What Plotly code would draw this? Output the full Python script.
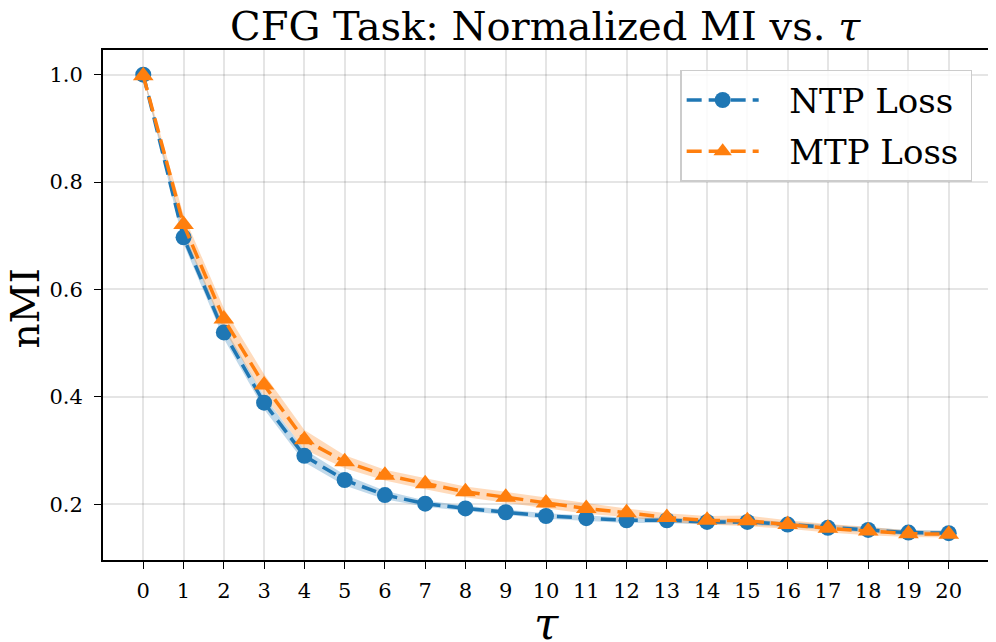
import plotly.graph_objects as go

tau = list(range(21))
ntp_mean = [1.0, 0.697, 0.52, 0.389, 0.290, 0.245, 0.217, 0.201, 0.192, 0.185, 0.178, 0.174, 0.170,
            0.170, 0.167, 0.167, 0.162, 0.156, 0.152, 0.147, 0.146]
ntp_std = [0.003, 0.012, 0.012, 0.012, 0.012, 0.010, 0.008, 0.006, 0.005, 0.005, 0.005, 0.005, 0.005,
           0.005, 0.005, 0.005, 0.005, 0.005, 0.005, 0.005, 0.005]
mtp_mean = [0.998, 0.721, 0.545, 0.422, 0.320, 0.279, 0.254, 0.238, 0.223, 0.213, 0.202, 0.192, 0.184,
            0.175, 0.170, 0.169, 0.162, 0.155, 0.150, 0.145, 0.144]
mtp_std = [0.003, 0.018, 0.020, 0.020, 0.018, 0.012, 0.010, 0.010, 0.010, 0.010, 0.010, 0.010, 0.008,
           0.008, 0.008, 0.010, 0.008, 0.008, 0.008, 0.006, 0.006]

series = [
    ("NTP Loss", ntp_mean, ntp_std, "#1f77b4", "rgba(31,119,180,0.28)", "circle", 16),
    ("MTP Loss", mtp_mean, mtp_std, "#ff7f0e", "rgba(255,127,14,0.28)", "triangle-up", 18),
]

fig = go.Figure()
for name, m, s, col, fcol, sym, msz in series:
    upper = [a + b for a, b in zip(m, s)]
    lower = [a - b for a, b in zip(m, s)]
    fig.add_trace(go.Scatter(x=tau + tau[::-1], y=upper + lower[::-1], fill="toself",
                             fillcolor=fcol, line=dict(width=0), mode="lines",
                             showlegend=False, hoverinfo="skip"))
for name, m, s, col, fcol, sym, msz in series:
    fig.add_trace(go.Scatter(x=tau, y=m, name="\u2002\u2005" + name + "\u2009", mode="lines+markers",
                             legendgroup=name,
                             line=dict(color=col, width=3.5, dash="15px,7px"),
                             marker=dict(symbol=sym, size=msz, color=col)))

font_family = "DejaVu Serif"
fig.update_layout(
    width=988, height=634,
    margin=dict(l=95, r=7, t=42, b=82, autoexpand=False),
    paper_bgcolor="white", plot_bgcolor="white",
    font=dict(family=font_family, color="black", size=21),
    title=dict(text="CFG Task: Normalized MI vs. <i>τ</i>", xref="container", x=0.5437,
               xanchor="center", yref="container", y=0.972, yanchor="middle",
               font=dict(size=40, family=font_family)),
    legend=dict(x=0.981, xanchor="right", y=0.961, yanchor="top",
                bgcolor="rgba(255,255,255,0.85)", bordercolor="#cccccc", borderwidth=1.5,
                font=dict(size=34, family=font_family), itemwidth=72,
                tracegroupgap=4),
    showlegend=True,
    annotations=[
        dict(text="nMI", xref="paper", yref="paper", x=-0.0875, y=0.494, textangle=-90,
             xanchor="center", yanchor="middle", showarrow=False,
             font=dict(size=39, family=font_family, color="black")),
        dict(text="<i>τ</i>", xref="paper", yref="paper", x=0.501, y=-0.124,
             xanchor="center", yanchor="middle", showarrow=False,
             font=dict(size=44, family=font_family, color="black")),
    ],
)
fig.update_xaxes(range=[-1, 21], tickmode="array", tickvals=tau, ticktext=[str(t) for t in tau],
                 showgrid=True, gridcolor="rgba(0,0,0,0.10)", gridwidth=1.5,
                 showline=True, linecolor="black", linewidth=1.8, mirror=True,
                 ticks="outside", ticklen=7, tickwidth=1.3, tickcolor="black",
                 tickfont=dict(size=21), ticklabelstandoff=4, zeroline=False, automargin=False)
fig.update_yaxes(range=[0.096, 1.046], tickvals=[0.2, 0.4, 0.6, 0.8, 1.0],
                 ticktext=["0.2", "0.4", "0.6", "0.8", "1.0"],
                 showgrid=True, gridcolor="rgba(0,0,0,0.10)", gridwidth=1.5,
                 showline=True, linecolor="black", linewidth=1.8, mirror=True,
                 ticks="outside", ticklen=7, tickwidth=1.3, tickcolor="black",
                 tickfont=dict(size=21), ticklabelstandoff=7, zeroline=False, automargin=False)

fig.write_html("out.html")
